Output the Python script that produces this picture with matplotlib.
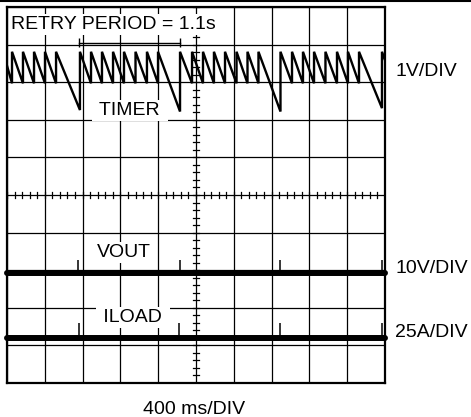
import numpy as np
import matplotlib
matplotlib.use("Agg")
import matplotlib.pyplot as plt
from matplotlib.lines import Line2D

plt.rcParams['font.family'] = ['Liberation Sans', 'DejaVu Sans']

# time axis in ms (400 ms/DIV, 10 divisions), vertical axis in divisions (0 = bottom)
MS_PER_DIV = 400

# TIMER trace: value at the left edge, reset times (vertical rise back to the top),
# the level each ramp has fallen to just before its reset, and the value at the right edge
TIMER_START = 8.44
TIMER_TOP = 8.81
TIMER_RESET_MS = [53, 169, 286, 402, 519, 772,
                  889, 1005, 1122, 1238, 1360, 1481, 1598, 1831,
                  1958, 2074, 2190, 2307, 2429, 2545, 2661, 2894,
                  3016, 3132, 3249, 3370, 3492, 3608, 3725, 3968]
TIMER_RAMP_LOW = [7.97, 7.97, 7.97, 7.97, 7.97, 7.26,
                  7.97, 7.97, 7.97, 7.97, 7.97, 7.97, 7.97, 7.22,
                  7.97, 7.97, 7.97, 7.97, 7.97, 7.97, 7.97, 7.22,
                  7.97, 7.97, 7.97, 7.97, 7.97, 7.97, 7.97, 7.31]
TIMER_END = 8.59

# VOUT and ILOAD are flat with small glitches at every retry
VOUT_LEVEL = 2.93
VOUT_SPIKE_MS = [755, 1831, 2889, 3968]
VOUT_SPIKE_TOP = [3.27, 3.27, 3.27, 3.27]
ILOAD_LEVEL = 1.21
ILOAD_SPIKE_MS = [762, 1820, 2889, 3968]
ILOAD_SPIKE_TOP = [1.60, 1.60, 1.60, 1.60]

RETRY_SPAN_MS = [765, 1831]

FS = 14


def timer_vertices():
    t = [0]
    v = [TIMER_START]
    for reset, low in zip(TIMER_RESET_MS, TIMER_RAMP_LOW):
        t.extend([reset, reset])
        v.extend([low, TIMER_TOP])
    t.append(MS_PER_DIV * 10)
    v.append(TIMER_END)
    return t, v


def draw_graticule(ax):
    for x in range(0, MS_PER_DIV * 10 + 1, MS_PER_DIV):
        ax.axvline(x, color='k', lw=0.9, zorder=1)
    for y in range(0, 11):
        ax.axhline(y, color='k', lw=0.9, zorder=1)
    # minor ticks on the centre axes
    for x in np.arange(0, MS_PER_DIV * 10 + 1, MS_PER_DIV / 5):
        ax.plot([x, x], [4.93, 5.07], color='k', lw=0.9, zorder=1)
    for y in np.arange(0, 10.01, 0.2):
        ax.plot([1972, 2028], [y, y], color='k', lw=0.9, zorder=1)
    for s in ax.spines.values():
        s.set_linewidth(1.6)
        s.set_zorder(6)


def main():
    fig = plt.figure(figsize=(4.71, 4.17), dpi=100)
    ax = fig.add_axes([7 / 471, 34 / 417, 378 / 471, 376 / 417])
    ax.set_xlim(0, MS_PER_DIV * 10)
    ax.set_ylim(0, 10)
    ax.set_xticks([])
    ax.set_yticks([])

    draw_graticule(ax)

    t, v = timer_vertices()
    ax.plot(t, v, color='k', lw=1.7, zorder=4, solid_joinstyle='miter')

    ax.plot([0, MS_PER_DIV * 10], [VOUT_LEVEL] * 2, color='k', lw=4.3,
            solid_capstyle='round', zorder=4, clip_on=False)
    ax.vlines(VOUT_SPIKE_MS, VOUT_LEVEL, VOUT_SPIKE_TOP, color='k', lw=1.1, zorder=4)
    ax.plot([0, MS_PER_DIV * 10], [ILOAD_LEVEL] * 2, color='k', lw=4.3,
            solid_capstyle='round', zorder=4, clip_on=False)
    ax.vlines(ILOAD_SPIKE_MS, ILOAD_LEVEL, ILOAD_SPIKE_TOP, color='k', lw=1.1, zorder=4)

    # retry period bracket
    ax.plot(RETRY_SPAN_MS, [9.05, 9.05], color='k', lw=1.0, zorder=4)
    ax.vlines(RETRY_SPAN_MS, 8.94, 9.18, color='k', lw=1.0, zorder=4)

    box = dict(facecolor='white', edgecolor='none', boxstyle='square,pad=0.12')
    ax.text(45, 9.415, "RETRY PERIOD = 1.1s ", fontsize=FS, ha='left', va='baseline',
            bbox=box, zorder=5)
    ax.text(1299, 7.128, " TIMER ", fontsize=FS, ha='center', va='baseline', bbox=box, zorder=5)
    ax.text(1236, 3.35, "VOUT", fontsize=FS, ha='center', va='baseline', bbox=box, zorder=5)
    ax.text(1331, 1.622, " ILOAD ", fontsize=FS, ha='center', va='baseline', bbox=box, zorder=5)

    # channel scales on the right, time base below
    ax.text(4106, 8.165, "1V/DIV", fontsize=FS, ha='left', va='baseline', clip_on=False)
    ax.text(4106, 2.93, "10V/DIV", fontsize=FS, ha='left', va='baseline', clip_on=False)
    ax.text(4106, 1.22, "25A/DIV", fontsize=FS, ha='left', va='baseline', clip_on=False)
    ax.text(1984, -0.824, "400 ms/DIV", fontsize=FS, ha='center', va='baseline', clip_on=False)

    fig.add_artist(Line2D([0, 1], [1 - 1 / 417] * 2, transform=fig.transFigure,
                          color='k', lw=1.5))

    fig.savefig("out.png", dpi=100)


if __name__ == "__main__":
    main()
